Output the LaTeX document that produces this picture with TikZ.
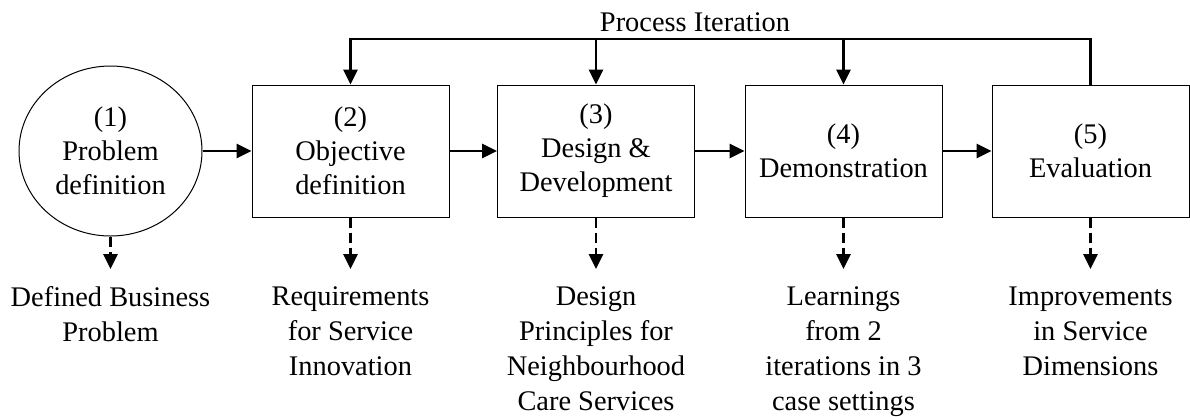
\documentclass[tikz,border=0pt]{standalone}
\usepackage{fontspec}
\setmainfont{Liberation Serif}
\usetikzlibrary{arrows.meta,shapes.geometric}
\begin{document}
\begin{tikzpicture}[x=1pt,y=-1pt,
  txt/.style={font=\fontsize{28.4}{34}\selectfont, align=center, inner sep=0pt},
  stage/.style={txt, draw, line width=1pt, minimum width=197pt, minimum height=132pt},
  startnode/.style={txt, ellipse, draw, line width=1pt, minimum width=183pt, minimum height=170pt},
  outcome/.style={font=\fontsize{28.4}{35}\selectfont, align=center, inner sep=0pt, anchor=north},
  flow/.style={line width=2.7pt, -{Triangle[length=15pt,width=14pt]}},
  result/.style={flow, dash pattern=on 10pt off 5pt},
]
\useasboundingbox (0,0) rectangle (1190,416);

% process stages
\node[startnode] (s1) at (110.5,151) {(1)\\Problem\\definition};
\node[stage] (s2) at (350.5,151) {(2)\\Objective\\definition};
\node[stage] (s3) at (596,151) {(3)\\Design \&\\Development};
\node[stage] (s4) at (843.5,151) {(4)\\Demonstration};
\node[stage] (s5) at (1090.5,151) {(5)\\Evaluation};

% main flow
\draw[flow] (s1.east) -- (s2.west);
\draw[flow] (s2.east) -- (s3.west);
\draw[flow] (s3.east) -- (s4.west);
\draw[flow] (s4.east) -- (s5.west);

% iteration loop
\coordinate (loop) at (0,39);
\node[txt, anchor=base] (iter) at (695,31) {Process Iteration};
\draw[flow, line join=miter] (s5.north) |- (s2.north |- loop) -- (s2.north);
\draw[flow] (s3.north |- loop) -- (s3.north);
\draw[flow] (s4.north |- loop) -- (s4.north);

% outcomes of each stage
\coordinate (tip) at (0,269);
\coordinate (lab) at (0,286.5);
\node[outcome] (o1) at (s1.south |- lab) {Defined Business\\Problem};
\node[outcome] (o2) at (s2.south |- lab) {Requirements\\for Service\\Innovation};
\node[outcome] (o3) at (s3.south |- lab) {Design\\Principles for\\Neighbourhood\\Care Services};
\node[outcome] (o4) at (s4.south |- lab) {Learnings\\from 2\\iterations in 3\\case settings};
\node[outcome] (o5) at (s5.south |- lab) {Improvements\\in Service\\Dimensions};

\draw[result] (s1.south) -- (s1.south |- tip);
\draw[result] (s2.south) -- (s2.south |- tip);
\draw[result] (s3.south) -- (s3.south |- tip);
\draw[result] (s4.south) -- (s4.south |- tip);
\draw[result] (s5.south) -- (s5.south |- tip);
\end{tikzpicture}
\end{document}
